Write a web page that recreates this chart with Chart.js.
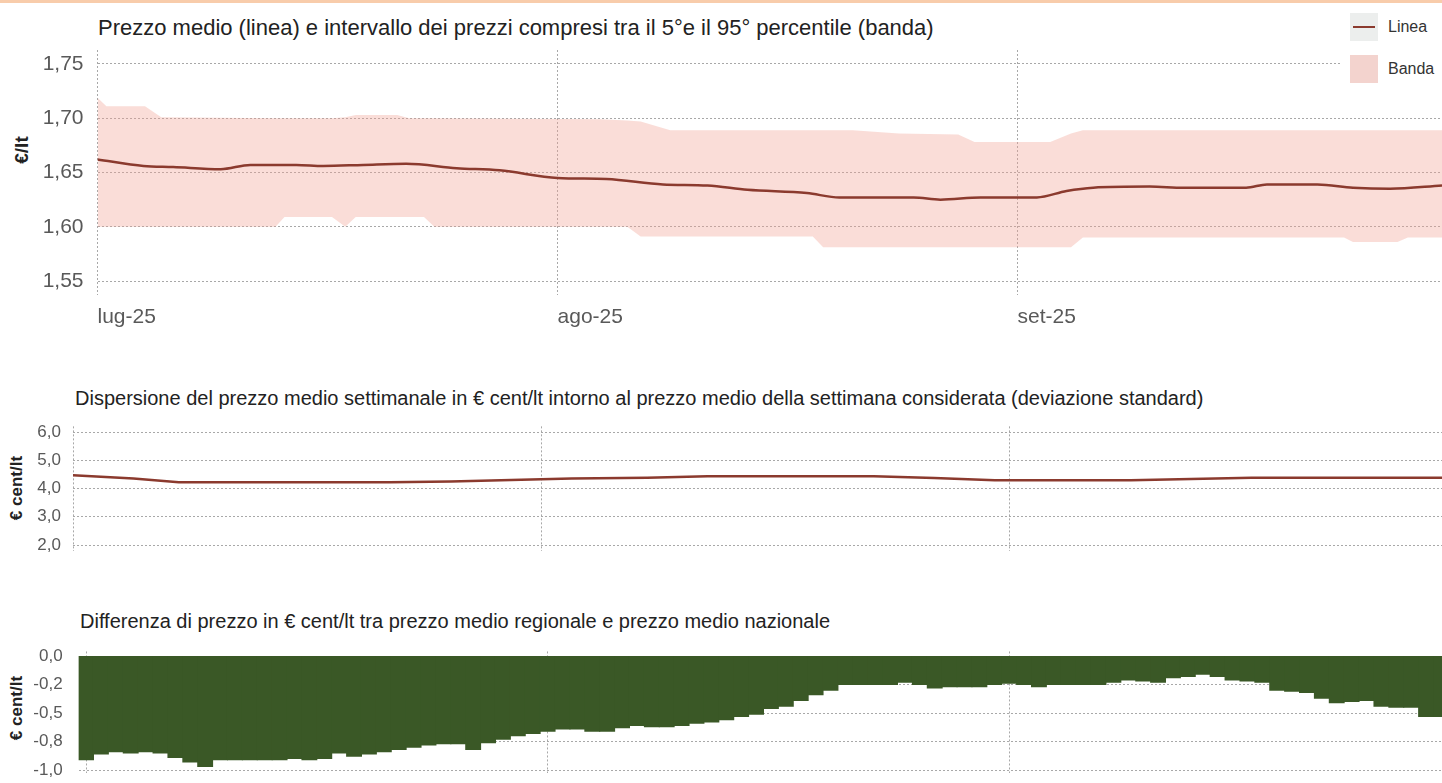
<!DOCTYPE html>
<html lang="it">
<head>
<meta charset="utf-8">
<title>Prezzi carburante</title>
<script src="https://cdn.jsdelivr.net/npm/chart.js@4.4.1/dist/chart.umd.min.js"></script>
<style>
  body { margin:0; background:#fff; font-family:"Liberation Sans", Arial, sans-serif; }
  #page { position:relative; width:1442px; height:783px; overflow:hidden; background:#fff; }
  .strip { position:absolute; left:0; top:0; width:1442px; height:3px; background:#f8ccab; }
  .title { position:absolute; white-space:nowrap; color:#222; line-height:1; }
  .ytitle { position:absolute; white-space:nowrap; color:#222; font-weight:bold; line-height:1;
            transform:translate(-50%,-50%) rotate(-90deg); }
  .box { position:absolute; left:0; width:1442px; }
  #legend { position:absolute; left:1340px; top:8px; width:102px; height:88px; background:#fff; }
  #legend .item { position:absolute; left:10px; height:28px; display:flex; align-items:center; font-size:16px; color:#333; }
  #legend .sw { width:28px; height:28px; margin-right:10px; position:relative; }
  #legend .sw-line { background:#eceeed; }
  #legend .sw-line i { position:absolute; left:3px; right:3px; top:13px; height:2px; background:#8b3a2e; }
  #legend .sw-band { background:#f3d3ce; }
</style>
</head>
<body>
<div id="page">
  <div class="strip"></div>

  <div class="title" style="left:98px; top:17px; font-size:22px">Prezzo medio (linea) e intervallo dei prezzi compresi tra il 5°e il 95° percentile (banda)</div>
  <div class="ytitle" style="left:21px; top:150px; font-size:19px">€/lt</div>
  <div class="box" style="top:40px; height:300px"><canvas id="prezzo"></canvas></div>
  <div id="legend">
    <div class="item" style="top:5px"><span class="sw sw-line"><i></i></span>Linea</div>
    <div class="item" style="top:47px"><span class="sw sw-band"></span>Banda</div>
  </div>

  <div class="title" style="left:75px; top:388px; font-size:20px">Dispersione del prezzo medio settimanale in € cent/lt intorno al prezzo medio della settimana considerata (deviazione standard)</div>
  <div class="ytitle" style="left:16px; top:488px; font-size:17px">€ cent/lt</div>
  <div class="box" style="top:410px; height:150px"><canvas id="dispersione"></canvas></div>

  <div class="title" style="left:80px; top:611px; font-size:20px">Differenza di prezzo in € cent/lt tra prezzo medio regionale e prezzo medio nazionale</div>
  <div class="ytitle" style="left:16px; top:708px; font-size:17px">€ cent/lt</div>
  <div class="box" style="top:640px; height:143px"><canvas id="differenza"></canvas></div>
</div>

<script>
// giorni contati dal 1 luglio
const X_TICK_DAYS   = [0, 31, 62]
const X_TICK_LABELS = ['lug-25', 'ago-25', 'set-25']

const Y1_TICKS  = [1.55, 1.60, 1.65, 1.70, 1.75]
const Y1_LABELS = ['1,55', '1,60', '1,65', '1,70', '1,75']
const Y2_TICKS  = [2, 3, 4, 5, 6]
const Y2_LABELS = ['2,0', '3,0', '4,0', '5,0', '6,0']
const Y3_TICKS  = [-1, -0.75, -0.5, -0.25, 0]
const Y3_LABELS = ['-1,0', '-0,8', '-0,5', '-0,2', '0,0']

// prezzo medio giornaliero (€/lt)
const PRICE_DAYS = [0, 3.1, 5.1, 8.3, 10.3, 13.4, 15.2, 17.9, 20.8, 24.2, 27.1, 31, 34.3, 38.1, 41.1, 43.8,
  47.8, 50, 55, 56.8, 59.5, 63.3, 65.3, 67.1, 70.9, 73.2, 77.4, 78.8, 82.2, 84.6, 87.1, 90.6]
const PRICE_AVG = [1.662, 1.656, 1.655, 1.653, 1.657, 1.657, 1.656, 1.657, 1.658, 1.654, 1.652, 1.645, 1.644, 1.639, 1.638, 1.634,
  1.631, 1.627, 1.627, 1.625, 1.627, 1.627, 1.633, 1.636, 1.637, 1.636, 1.636, 1.639, 1.639, 1.636, 1.635, 1.638]

// banda 5°-95° percentile
const BAND_DAYS = [0, 0.6, 3.2, 4.3, 12.0, 12.6, 15.8, 16.7, 17.4, 20.2, 21.0, 22.0, 22.7, 33.9, 35.7, 36.6,
  38.6, 48.2, 48.9, 50.9, 54.0, 58.0, 59.1, 64.2, 65.6, 66.4, 84.0, 84.6, 87.6, 88.3, 90.6]
const BAND_HIGH = [1.719, 1.711, 1.711, 1.701, 1.700, 1.700, 1.700, 1.701, 1.703, 1.703, 1.700, 1.700, 1.700, 1.699, 1.698, 1.697,
  1.689, 1.689, 1.689, 1.689, 1.686, 1.685, 1.678, 1.678, 1.686, 1.689, 1.689, 1.689, 1.689, 1.689, 1.689]
const BAND_LOW  = [1.600, 1.600, 1.600, 1.600, 1.600, 1.609, 1.609, 1.600, 1.609, 1.609, 1.609, 1.609, 1.600, 1.600, 1.600, 1.591,
  1.591, 1.591, 1.581, 1.581, 1.581, 1.581, 1.581, 1.581, 1.581, 1.590, 1.590, 1.586, 1.586, 1.590, 1.590]

// deviazione standard settimanale (€ cent/lt)
const DISP_DAYS   = [0, 4, 7, 14, 21, 25, 29, 33, 38, 42, 49, 53, 57, 61, 66, 70, 74, 78, 84, 90.6]
const DISP_VALUES = [4.47, 4.35, 4.22, 4.22, 4.22, 4.25, 4.30, 4.35, 4.38, 4.43, 4.43, 4.43, 4.37, 4.29, 4.29, 4.29, 4.34, 4.38, 4.38, 4.38]

// differenza regionale - nazionale, un valore al giorno dal 1 luglio (€ cent/lt)
const DIFF_VALUES = [
  -0.91, -0.86, -0.84, -0.85, -0.84, -0.85, -0.89, -0.93, -0.97, -0.91,
  -0.91, -0.91, -0.91, -0.91, -0.90, -0.91, -0.90, -0.85, -0.88, -0.86,
  -0.84, -0.82, -0.80, -0.78, -0.77, -0.77, -0.82, -0.76, -0.73, -0.70,
  -0.68, -0.66, -0.64, -0.64, -0.66, -0.66, -0.63, -0.61, -0.62, -0.62,
  -0.61, -0.59, -0.58, -0.56, -0.53, -0.51, -0.46, -0.44, -0.39, -0.34,
  -0.30, -0.25, -0.25, -0.25, -0.25, -0.23, -0.25, -0.28, -0.27, -0.27,
  -0.27, -0.25, -0.24, -0.25, -0.27, -0.25, -0.25, -0.25, -0.25, -0.23,
  -0.21, -0.22, -0.23, -0.19, -0.18, -0.16, -0.18, -0.21, -0.22, -0.23,
  -0.30, -0.31, -0.32, -0.37, -0.41, -0.40, -0.39, -0.44, -0.45, -0.45,
  -0.53, -0.53
]

const LINE  = '#8b3a2e'
const BAND  = 'rgba(242,160,148,0.36)'
const BAR   = '#3a5826'
const GRID  = '#a8a8a8'
const TICK  = '#595959'

Chart.defaults.font.family = '"Liberation Sans", Arial, sans-serif'
Chart.defaults.animation = false

const pts = (xs, ys) => xs.map((x, i) => ({ x, y: ys[i] }))
const fixTicks = list => axis => { axis.ticks = list.map(v => ({ value: v })) }
const labelOf = (list, labels) => v => labels[list.indexOf(v)]

// le dimensioni degli assi sono fissate, senza margini extra per le etichette
function xAxis(min, max, height, showLabels) {
  return {
    type: 'linear', min, max, offset: false,
    afterBuildTicks: fixTicks(X_TICK_DAYS),
    afterFit: s => { s.height = height; s.paddingLeft = 0; s.paddingRight = 0 },
    grid: { color: GRID, lineWidth: 1, drawTicks: false, offset: false },
    border: { display: false, dash: [2, 2] },
    ticks: showLabels
      ? { display: true, align: 'start', padding: 10, color: TICK, font: { size: 21 }, autoSkip: false, maxRotation: 0,
          callback: labelOf(X_TICK_DAYS, X_TICK_LABELS) }
      : { display: false }
  }
}

function yAxis(min, max, ticks, labels, width, size, pad) {
  return {
    min, max,
    afterBuildTicks: fixTicks(ticks),
    afterFit: s => { s.width = width; s.paddingTop = 0; s.paddingBottom = 0 },
    grid: { color: GRID, lineWidth: 1, drawTicks: false },
    border: { display: false, dash: [2, 2] },
    ticks: { color: TICK, font: { size }, padding: pad, callback: labelOf(ticks, labels) }
  }
}

const common = {
  responsive: true, maintainAspectRatio: false,
  plugins: { legend: { display: false }, tooltip: { enabled: false } },
  elements: { point: { radius: 0 } }
}

new Chart(document.getElementById('prezzo'), {
  type: 'line',
  data: { datasets: [
    { label: 'Linea', data: pts(PRICE_DAYS, PRICE_AVG), borderColor: LINE, borderWidth: 2.5,
      cubicInterpolationMode: 'monotone', fill: false },
    { label: 'Banda', data: pts(BAND_DAYS, BAND_HIGH), borderWidth: 0, borderColor: 'transparent',
      backgroundColor: BAND, fill: '+1' },
    { label: 'Banda min', data: pts(BAND_DAYS, BAND_LOW), borderWidth: 0, borderColor: 'transparent', fill: false }
  ]},
  options: { ...common,
    layout: { padding: { top: 10, left: 0, right: 0, bottom: 0 } },
    scales: {
      x: xAxis(0, 90.6, 45, true),
      y: yAxis(1.5371, 1.7629, Y1_TICKS, Y1_LABELS, 97.5, 21, 14)
    }
  }
})

new Chart(document.getElementById('dispersione'), {
  type: 'line',
  data: { datasets: [
    { label: 'Deviazione standard', data: pts(DISP_DAYS, DISP_VALUES), borderColor: LINE, borderWidth: 2.5, fill: false }
  ]},
  options: { ...common,
    layout: { padding: { top: 16.35, left: 0, right: 0, bottom: 0 } },
    scales: {
      x: xAxis(0, 90.6, 9.35, false),
      y: yAxis(1.8, 6.2, Y2_TICKS, Y2_LABELS, 73, 17, 12)
    }
  }
})

new Chart(document.getElementById('differenza'), {
  type: 'bar',
  data: { datasets: [
    { label: 'Differenza', data: DIFF_VALUES.map((v, i) => ({ x: i, y: v })), backgroundColor: BAR,
      borderWidth: 0, categoryPercentage: 1, barPercentage: 1, inflateAmount: 0.5 }
  ]},
  options: { ...common,
    layout: { padding: { top: 11.44, left: 0, right: 0, bottom: 0 } },
    scales: {
      x: xAxis(-0.5, 91.07, 9.58, false),
      y: yAxis(-1.03, 0.04, Y3_TICKS, Y3_LABELS, 78.6, 17, 16)
    }
  }
})
</script>
</body>
</html>
